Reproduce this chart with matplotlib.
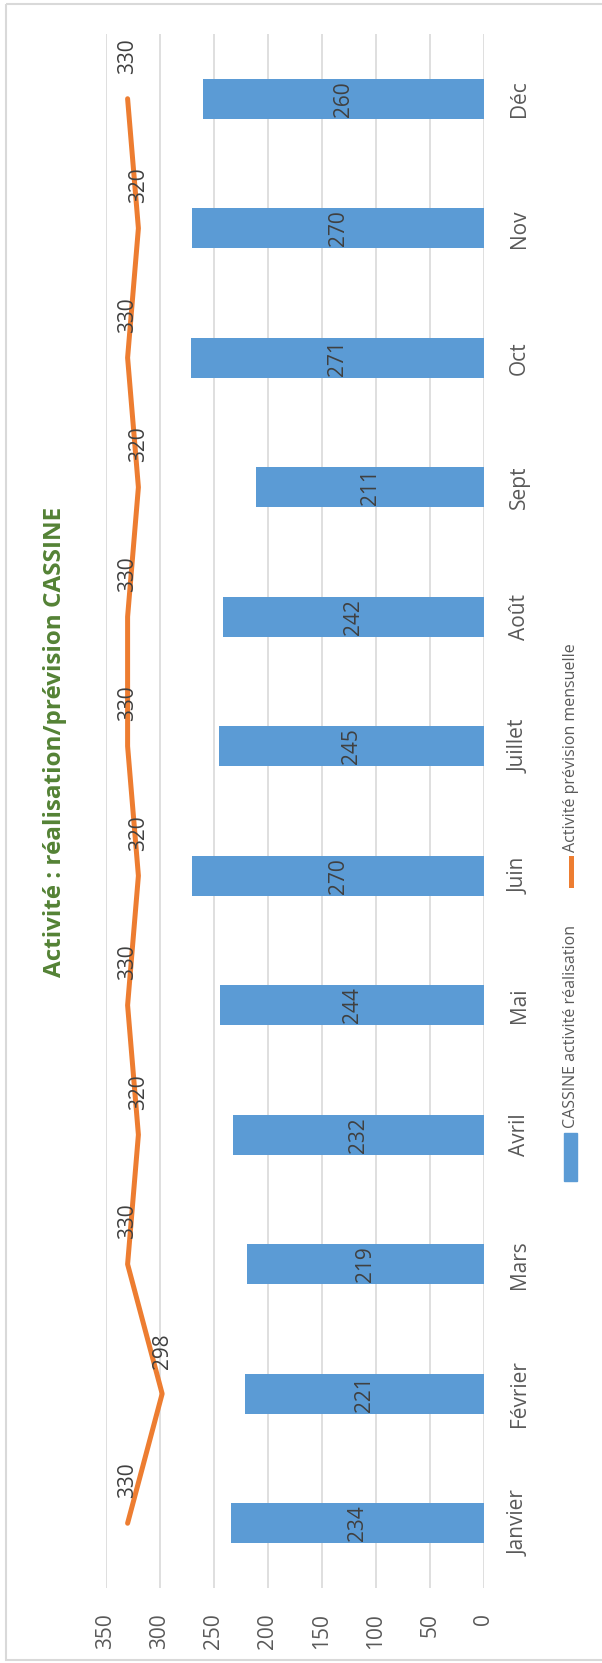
import matplotlib
matplotlib.use("Agg")
import matplotlib.pyplot as plt
from matplotlib import font_manager
from matplotlib.patches import Rectangle

# données du graphique
mois = ["Janvier", "Février", "Mars", "Avril", "Mai", "Juin",
        "Juillet", "Août", "Sept", "Oct", "Nov", "Déc"]
realisation = [234, 221, 219, 232, 244, 270, 245, 242, 211, 271, 270, 260]
prevision = [330, 298, 330, 320, 330, 320, 330, 330, 320, 330, 320, 330]
graduations = [0, 50, 100, 150, 200, 250, 300, 350]

titre = "Activité : réalisation/prévision CASSINE"
nom_barres = "CASSINE activité réalisation"
nom_ligne = "Activité prévision mensuelle"

BLEU = "#5B9BD5"
ORANGE = "#ED7D31"
VERT = "#548235"
GRIS = "#595959"
GRILLE = "#D9D9D9"

# police étroite façon Calibri si dispo
installees = {f.name for f in font_manager.fontManager.ttflist}
if "Liberation Sans Narrow" in installees:
    police, k = "Liberation Sans Narrow", 1.2
else:
    police, k = "Open Sans", 1.0
plt.rcParams["font.family"] = [police, "DejaVu Sans"]

W, H = 602, 1663
fig = plt.figure(figsize=(W / 100, H / 100), dpi=100, facecolor="white")
ax = fig.add_axes([106 / W, 1 - 1588 / H, (484 - 106) / W, (1588 - 34) / H])

pos = list(range(len(mois)))
ax.barh(pos, realisation, height=0.31, color=BLEU, zorder=2)
ax.plot(prevision, pos, color=ORANGE, lw=3.6, solid_capstyle="round",
        solid_joinstyle="round", zorder=3)

for p, v in zip(pos, realisation):
    ax.text(v / 2, p, str(v), rotation=90, ha="center", va="center",
            fontsize=15 * k, color="#404040", zorder=4)
for p, v in zip(pos, prevision):
    ax.annotate(str(v), (v, p), xytext=(0, 31), textcoords="offset points",
                rotation=90, ha="center", va="center", fontsize=15 * k,
                color="#404040", zorder=4)

ax.set_xlim(350, 0)
ax.set_ylim(-0.5, len(mois) - 0.5)
ax.set_xticks(graduations)
ax.set_xticklabels([str(g) for g in graduations], rotation=90,
                   fontsize=15 * k, color=GRIS)
ax.set_yticks(pos)
ax.set_yticklabels(mois, rotation=90, fontsize=15 * k, color=GRIS, va="center")
ax.yaxis.tick_right()
ax.tick_params(axis="x", length=0, pad=18)
ax.tick_params(axis="y", length=0, pad=18)
ax.grid(axis="x", color=GRILLE, lw=1.2, zorder=0)
ax.set_axisbelow(True)
for s in ax.spines.values():
    s.set_visible(False)

# calque en pixels pour titre, légende et cadre
fond = fig.add_axes([0, 0, 1, 1])
fond.set_xlim(0, W)
fond.set_ylim(H, 0)
fond.axis("off")
fond.add_patch(Rectangle((6, 4), W, H - 7, fill=False, ec=GRILLE, lw=1.5))
fond.text(55, 742, titre, rotation=90, ha="center", va="center",
          fontsize=17.5 * k, fontweight="bold", color=VERT)

fond.add_patch(Rectangle((564, 1133), 13, 48, color=BLEU))
fond.text(571, 1128, nom_barres, rotation=90, ha="center", va="bottom",
          fontsize=11.5 * k, color=GRIS)
fond.plot([571, 571], [858, 885], color=ORANGE, lw=3.6)
fond.text(571, 852, nom_ligne, rotation=90, ha="center", va="bottom",
          fontsize=11.5 * k, color=GRIS)

fig.savefig("out.png", dpi=100, facecolor="white")
